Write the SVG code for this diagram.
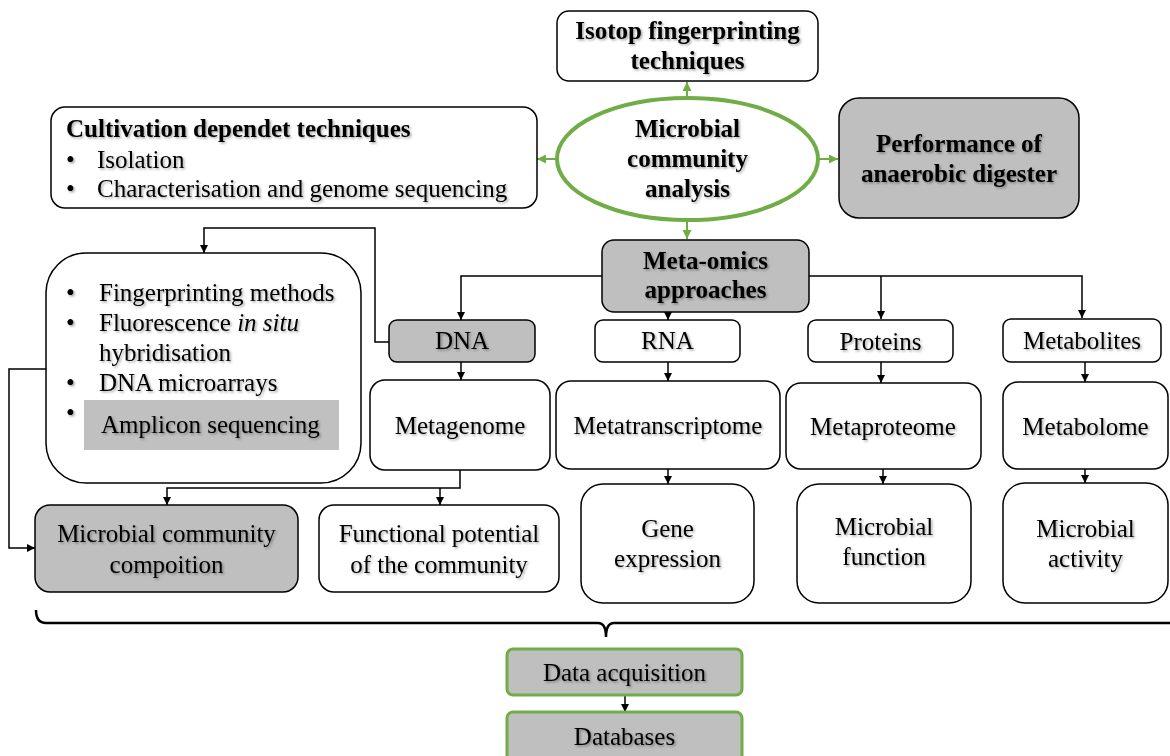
<svg xmlns="http://www.w3.org/2000/svg" width="1170" height="756" viewBox="0 0 1170 756">
<defs>
<style>
text{font-family:"Liberation Serif","Times New Roman",serif;font-size:25px;fill:#000;filter:url(#sh)}
.b{font-weight:bold}
.m{text-anchor:middle}
.box{fill:#fff;stroke:#000;stroke-width:1.5}
.gbox{fill:#bfbfbf;stroke:#000;stroke-width:1.5}
.grn{fill:#bfbfbf;stroke:#70ad47;stroke-width:3}
.c{fill:none;stroke:#000;stroke-width:1.5}
.cg{fill:none;stroke:#70ad47;stroke-width:2}
</style>
<filter id="sh" x="-5%" y="-20%" width="110%" height="150%">
<feDropShadow dx="1.5" dy="1.5" stdDeviation="0.8" flood-color="#000" flood-opacity="0.35"/>
</filter>
<marker id="a" viewBox="0 0 10 10" refX="10" refY="5" markerWidth="8" markerHeight="8" markerUnits="userSpaceOnUse" orient="auto">
<path d="M0,0 L10,5 L0,10 z" fill="#000"/>
</marker>
<marker id="ag" viewBox="0 0 10 10" refX="10" refY="5" markerWidth="9" markerHeight="9" markerUnits="userSpaceOnUse" orient="auto">
<path d="M0,0 L10,5 L0,10 z" fill="#70ad47"/>
</marker>
</defs>
<rect width="1170" height="756" fill="#fff"/>

<g id="connectors">
<path class="cg" d="M687,98 V82" marker-end="url(#ag)"/>
<path class="cg" d="M557,159 H537" marker-end="url(#ag)"/>
<path class="cg" d="M818,159 H838" marker-end="url(#ag)"/>
<path class="cg" d="M687,220 V239" marker-end="url(#ag)"/>
<path class="c" d="M602,276 H461 V320" marker-end="url(#a)"/>
<path class="c" d="M809,276 H1082 V318" marker-end="url(#a)"/>
<path class="c" d="M881,276 V319" marker-end="url(#a)"/>
<path class="c" d="M668,312 V320" marker-end="url(#a)"/>
<path class="c" d="M389,342 H375 V228 H204 V253" marker-end="url(#a)"/>
<path class="c" d="M461,362 V380" marker-end="url(#a)"/>
<path class="c" d="M668,362 V381" marker-end="url(#a)"/>
<path class="c" d="M881,362 V383" marker-end="url(#a)"/>
<path class="c" d="M1085,362 V382" marker-end="url(#a)"/>
<path class="c" d="M460,470 V488 H167 V505" marker-end="url(#a)"/>
<path class="c" d="M440,488 V505" marker-end="url(#a)"/>
<path class="c" d="M46,369 H9 V548 H35" marker-end="url(#a)"/>
<path class="c" d="M668,469 V484" marker-end="url(#a)"/>
<path class="c" d="M883,469 V484" marker-end="url(#a)"/>
<path class="c" d="M1085,469 V483" marker-end="url(#a)"/>
<path d="M36,610 Q36,623 46,623 H598 Q606,623 606,637 Q606,623 614,623 H1172" fill="none" stroke="#000" stroke-width="2.5"/>
<path class="c" d="M625,695 V712" marker-end="url(#a)"/>
</g>

<g id="isotop">
<rect class="box" x="557" y="11" width="261" height="70" rx="12"/>
<text class="b m" x="687.5" y="39">Isotop fingerprinting</text>
<text class="b m" x="687.5" y="69">techniques</text>
</g>

<g id="mca">
<ellipse cx="687.5" cy="159" rx="130.5" ry="61" fill="#fff" stroke="#70ad47" stroke-width="4"/>
<text class="b m" x="687.5" y="137">Microbial</text>
<text class="b m" x="687.5" y="167">community</text>
<text class="b m" x="687.5" y="197">analysis</text>
</g>

<g id="cultivation">
<rect class="box" x="51" y="107" width="486" height="101" rx="14"/>
<text class="b" x="66" y="137">Cultivation dependet techniques</text>
<text x="66" y="168">•</text><text x="97" y="168">Isolation</text>
<text x="66" y="197">•</text><text x="97" y="197">Characterisation and genome sequencing</text>
</g>

<g id="performance">
<rect class="gbox" x="839" y="98" width="240" height="120" rx="20"/>
<text class="b m" x="959" y="152">Performance of</text>
<text class="b m" x="959" y="182">anaerobic digester</text>
</g>

<g id="metaomics">
<rect class="gbox" x="602" y="240" width="207" height="72" rx="12"/>
<text class="b m" x="705.5" y="269">Meta-omics</text>
<text class="b m" x="705.5" y="298">approaches</text>
</g>

<g id="methods">
<rect class="box" x="46" y="253" width="315" height="230" rx="40"/>
<rect x="84" y="400" width="255" height="50" fill="#c0c0c0"/>
<text x="66" y="301">•</text><text x="99" y="301">Fingerprinting methods</text>
<text x="66" y="331">•</text><text x="99" y="331">Fluorescence <tspan font-style="italic">in situ</tspan></text>
<text x="99" y="361">hybridisation</text>
<text x="66" y="391">•</text><text x="99" y="391">DNA microarrays</text>
<text x="66" y="421">•</text><text x="101" y="433">Amplicon sequencing</text>
</g>

<g id="dna">
<rect class="gbox" x="389" y="320" width="146" height="42" rx="8"/>
<text class="m" x="462" y="349">DNA</text>
</g>
<g id="rna">
<rect class="box" x="595" y="320" width="145" height="42" rx="8"/>
<text class="m" x="667.5" y="349">RNA</text>
</g>
<g id="proteins">
<rect class="box" x="808" y="320" width="145" height="42" rx="8"/>
<text class="m" x="880.5" y="350">Proteins</text>
</g>
<g id="metabolites">
<rect class="box" x="1003" y="319" width="158" height="43" rx="8"/>
<text class="m" x="1082" y="349">Metabolites</text>
</g>

<g id="metagenome">
<rect class="box" x="370" y="380" width="180" height="90" rx="15"/>
<text class="m" x="460" y="434">Metagenome</text>
</g>
<g id="metatranscriptome">
<rect class="box" x="556" y="381" width="224" height="88" rx="15"/>
<text class="m" x="668" y="434">Metatranscriptome</text>
</g>
<g id="metaproteome">
<rect class="box" x="786" y="383" width="195" height="86" rx="15"/>
<text class="m" x="883" y="435">Metaproteome</text>
</g>
<g id="metabolome">
<rect class="box" x="1003" y="382" width="165" height="87" rx="15"/>
<text class="m" x="1085.5" y="435">Metabolome</text>
</g>

<g id="composition">
<rect class="gbox" x="35" y="505" width="263" height="87" rx="15"/>
<text class="m" x="166.5" y="542">Microbial community</text>
<text class="m" x="166.5" y="573">compoition</text>
</g>
<g id="functional">
<rect class="box" x="319" y="505" width="240" height="87" rx="15"/>
<text class="m" x="439" y="542">Functional potential</text>
<text class="m" x="439" y="573">of the community</text>
</g>
<g id="gene">
<rect class="box" x="581" y="484" width="173" height="119" rx="22"/>
<text class="m" x="667.5" y="537">Gene</text>
<text class="m" x="667.5" y="567">expression</text>
</g>
<g id="function">
<rect class="box" x="797" y="484" width="174" height="119" rx="22"/>
<text class="m" x="884" y="535">Microbial</text>
<text class="m" x="884" y="565">function</text>
</g>
<g id="activity">
<rect class="box" x="1003" y="483" width="165" height="120" rx="22"/>
<text class="m" x="1085.5" y="537">Microbial</text>
<text class="m" x="1085.5" y="567">activity</text>
</g>

<g id="acquisition">
<rect class="grn" x="507" y="649" width="235" height="46" rx="6"/>
<text class="m" x="624.5" y="681">Data acquisition</text>
</g>
<g id="databases">
<rect class="grn" x="507" y="712" width="235" height="50" rx="6"/>
<text class="m" x="624.5" y="745">Databases</text>
</g>
</svg>
